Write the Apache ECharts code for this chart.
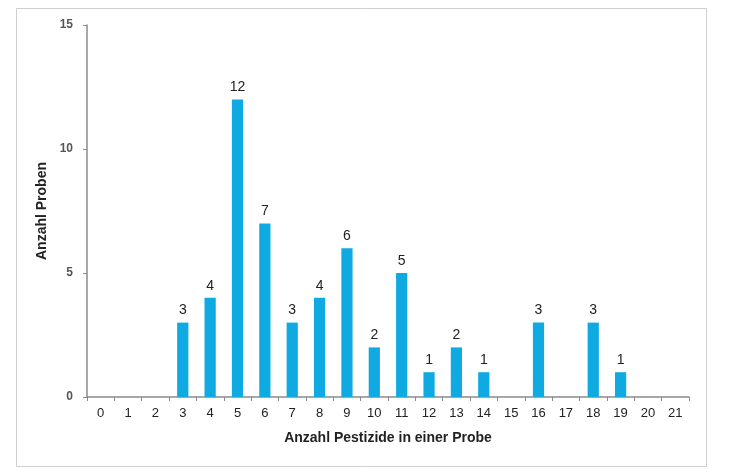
<!DOCTYPE html>
<html><head><meta charset="utf-8">
<script src="https://cdn.jsdelivr.net/npm/echarts@6/dist/echarts.min.js"></script>
<style>html,body{margin:0;padding:0;background:#fff}#c{width:735px;height:476px}</style>
</head><body><div id="c"></div>
<script>
var categories = ['0','1','2','3','4','5','6','7','8','9','10','11','12','13','14','15','16','17','18','19','20','21'];
var values = [0,0,0,3,4,12,7,3,4,6,2,5,1,2,1,0,3,0,3,1,0,0];
var yTicks = [0,5,10,15];

var chart = echarts.init(document.getElementById('c'));
chart.setOption({
  animation:false,
  graphic:[{type:'rect',shape:{x:16.5,y:8.5,width:690,height:458},style:{fill:'none',stroke:'#cfcfcf',lineWidth:1},silent:true}],
  grid:{left:87,right:46,top:25,bottom:79,containLabel:false},
  xAxis:{
    type:'category',data:categories,
    name:'Anzahl Pestizide in einer Probe',nameLocation:'middle',nameGap:34,
    nameTextStyle:{fontFamily:'Liberation Sans',fontWeight:'bold',fontSize:14,color:'#222'},
    axisLine:{lineStyle:{color:'#8a8a8a',width:1.5}},
    axisTick:{show:true,alignWithLabel:false,length:4,lineStyle:{color:'#8a8a8a'}},
    axisLabel:{fontFamily:'Liberation Sans',fontSize:13,color:'#222',margin:10,interval:0}
  },
  yAxis:{
    type:'value',min:0,max:15,interval:5,
    name:'Anzahl Proben',nameLocation:'middle',nameGap:36,nameRotate:90,
    nameTextStyle:{fontFamily:'Liberation Sans',fontWeight:'bold',fontSize:14,color:'#222'},
    axisLine:{show:true,lineStyle:{color:'#8a8a8a',width:1.5}},
    axisTick:{show:true,length:4,lineStyle:{color:'#8a8a8a'}},
    splitLine:{show:false},
    axisLabel:{fontFamily:'Liberation Sans',fontSize:12,fontWeight:'bold',color:'#555',margin:14,
      formatter:function(v){return yTicks.indexOf(v)>=0?String(v):'';}}
  },
  series:[{
    type:'bar',data:values,barWidth:'41%',
    itemStyle:{color:'#0faae2'},
    label:{show:true,position:'top',distance:5,fontFamily:'Liberation Sans',fontSize:14,color:'#222',
      formatter:function(p){return p.value>0?String(p.value):'';}}
  }]
});
</script></body></html>
